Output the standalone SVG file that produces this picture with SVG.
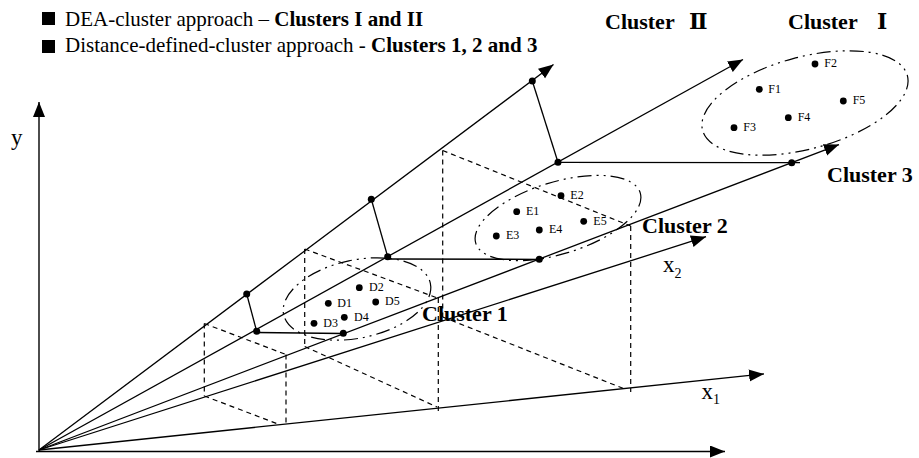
<svg xmlns="http://www.w3.org/2000/svg" width="919" height="458" viewBox="0 0 919 458">
<style>
  .ax { stroke:#000; stroke-width:1.4; fill:none; }
  .ray { stroke:#000; stroke-width:1.3; fill:none; }
  .dash { stroke:#000; stroke-width:1.2; fill:none; stroke-dasharray:5 4; }
  .ell { stroke:#000; stroke-width:1.2; fill:none; stroke-dasharray:14 5 2 5 2 5; }
  .dot { fill:#000; }
  .pl { font-family:"Liberation Serif","Times New Roman",serif; font-size:12px; fill:#000; }
  .cl { font-family:"Liberation Serif","DejaVu Serif","Noto Sans CJK SC",serif; font-size:22px; font-weight:bold; fill:#000; }
  .leg { font-family:"Liberation Serif","Times New Roman",serif; font-size:21px; fill:#000; }
  .axl { font-family:"Liberation Serif","Times New Roman",serif; font-size:23px; fill:#000; }
  .sub { font-size:14px; }
</style>
<defs>
  <marker id="arr" markerUnits="userSpaceOnUse" markerWidth="16" markerHeight="13" refX="15" refY="6" orient="auto">
    <path d="M0,0 L15,6 L0,12 z" fill="#000"/>
  </marker>
</defs>
<rect width="919" height="458" fill="#fff"/>

<g id="legend">
  <rect x="42" y="12" width="13" height="13" fill="#000"/>
  <text class="leg" x="65" y="25.5">DEA-cluster approach – <tspan font-weight="bold">Clusters I and II</tspan></text>
  <rect x="42" y="40" width="13" height="13" fill="#000"/>
  <text class="leg" x="65" y="51.5">Distance-defined-cluster approach - <tspan font-weight="bold">Clusters 1, 2 and 3</tspan></text>
</g>

<g id="axes">
  <line class="ax" x1="39" y1="452" x2="39" y2="102" marker-end="url(#arr)"/>
  <line class="ax" x1="36" y1="451.5" x2="725" y2="451.5" marker-end="url(#arr)"/>
  <text class="axl" x="11" y="145">y</text>
  <text class="axl" x="663" y="271.5">x<tspan class="sub" dy="6">2</tspan></text>
  <text class="axl" x="701.5" y="398.5">x<tspan class="sub" dy="5">1</tspan></text>
</g>

<g id="connectors">
  <line class="ray" x1="39" y1="450" x2="553.5" y2="64.5" marker-end="url(#arr)"/>
  <line class="ray" x1="39" y1="450" x2="743" y2="59.5" marker-end="url(#arr)"/>
  <line class="ray" x1="39" y1="450" x2="839" y2="144.6" marker-end="url(#arr)"/>
  <line class="ray" x1="39" y1="450" x2="706" y2="236.7" marker-end="url(#arr)"/>
  <line class="ray" x1="39" y1="450" x2="764" y2="373.9" marker-end="url(#arr)"/>
  <line class="ray" x1="246.7" y1="294" x2="256.7" y2="331.3"/>
  <line class="ray" x1="371.3" y1="199.3" x2="387.7" y2="256.7"/>
  <line class="ray" x1="532.3" y1="81" x2="558" y2="162.3"/>
  <line class="ray" x1="256.7" y1="332.5" x2="343.3" y2="333.5"/>
  <line class="ray" x1="387.7" y1="259" x2="539.3" y2="259.3"/>
  <line class="ray" x1="558" y1="162.4" x2="800" y2="162.6"/>
  <!-- dashed boxes -->
  <line class="dash" x1="204.3" y1="323.5" x2="204.3" y2="396"/>
  <line class="dash" x1="204.3" y1="323.5" x2="286" y2="354.5"/>
  <line class="dash" x1="286" y1="354.5" x2="286" y2="426.5"/>
  <line class="dash" x1="204.3" y1="396" x2="278" y2="424"/>
  <line class="dash" x1="304.7" y1="249" x2="304.7" y2="346.5"/>
  <line class="dash" x1="304.7" y1="249" x2="437.5" y2="298"/>
  <line class="dash" x1="438.3" y1="298" x2="438.3" y2="412"/>
  <line class="dash" x1="304.7" y1="346.5" x2="437" y2="407"/>
  <line class="dash" x1="442.7" y1="150.5" x2="442.7" y2="317"/>
  <line class="dash" x1="442.7" y1="150.5" x2="630.7" y2="226"/>
  <line class="dash" x1="630.7" y1="226" x2="630.7" y2="392"/>
  <line class="dash" x1="442.7" y1="317" x2="623" y2="388.3"/>
  <!-- points on rays -->
  <circle class="dot" cx="246.7" cy="294" r="3.5"/>
  <circle class="dot" cx="371.3" cy="199.3" r="3.5"/>
  <circle class="dot" cx="532.3" cy="81" r="3.5"/>
  <circle class="dot" cx="256.7" cy="331.3" r="3.5"/>
  <circle class="dot" cx="387.7" cy="256.7" r="3.5"/>
  <circle class="dot" cx="558" cy="162.3" r="3.5"/>
  <circle class="dot" cx="343.3" cy="333.3" r="3.5"/>
  <circle class="dot" cx="539.3" cy="259.3" r="3.5"/>
  <circle class="dot" cx="791.7" cy="162.7" r="3.5"/>
</g>

<g id="clusterD">
  <ellipse class="ell" cx="357" cy="299" rx="75" ry="39" transform="rotate(-12 357 299)"/>
  <circle class="dot" cx="328.3" cy="303.3" r="3.4"/><text class="pl" x="337.3" y="306.5">D1</text>
  <circle class="dot" cx="359.3" cy="287.7" r="3.4"/><text class="pl" x="369" y="291">D2</text>
  <circle class="dot" cx="314" cy="323.3" r="3.4"/><text class="pl" x="323.3" y="326.5">D3</text>
  <circle class="dot" cx="344.3" cy="317.3" r="3.4"/><text class="pl" x="354" y="320.5">D4</text>
  <circle class="dot" cx="375.7" cy="302" r="3.4"/><text class="pl" x="385" y="305.3">D5</text>
</g>

<g id="clusterE">
  <ellipse class="ell" cx="558" cy="218" rx="86" ry="36" transform="rotate(-17 558 218)"/>
  <circle class="dot" cx="516.7" cy="211.7" r="3.4"/><text class="pl" x="526" y="215">E1</text>
  <circle class="dot" cx="561" cy="195.7" r="3.4"/><text class="pl" x="570.3" y="199">E2</text>
  <circle class="dot" cx="496.3" cy="236" r="3.4"/><text class="pl" x="506" y="239.3">E3</text>
  <circle class="dot" cx="539.3" cy="230" r="3.4"/><text class="pl" x="549" y="233.3">E4</text>
  <circle class="dot" cx="583.7" cy="221.3" r="3.4"/><text class="pl" x="593.3" y="224.6">E5</text>
</g>

<g id="clusterF">
  <ellipse class="ell" cx="805" cy="103" rx="106" ry="46" transform="rotate(-15 805 103)"/>
  <circle class="dot" cx="759.3" cy="89.3" r="3.4"/><text class="pl" x="768.3" y="92.6">F1</text>
  <circle class="dot" cx="815" cy="64" r="3.4"/><text class="pl" x="824.3" y="67.3">F2</text>
  <circle class="dot" cx="734" cy="127.7" r="3.4"/><text class="pl" x="743.3" y="131">F3</text>
  <circle class="dot" cx="788.3" cy="117.7" r="3.4"/><text class="pl" x="797.7" y="121">F4</text>
  <circle class="dot" cx="843.3" cy="101" r="3.4"/><text class="pl" x="852.7" y="104.3">F5</text>
</g>

<g id="labels">
  <text class="cl" x="605" y="29">Cluster <tspan x="689">Ⅱ</tspan></text>
  <text class="cl" x="788" y="29">Cluster <tspan x="877">Ⅰ</tspan></text>
  <text class="cl" x="827" y="182">Cluster 3</text>
  <text class="cl" x="642" y="233">Cluster 2</text>
  <text class="cl" x="422" y="321">Cluster 1</text>
</g>
</svg>
